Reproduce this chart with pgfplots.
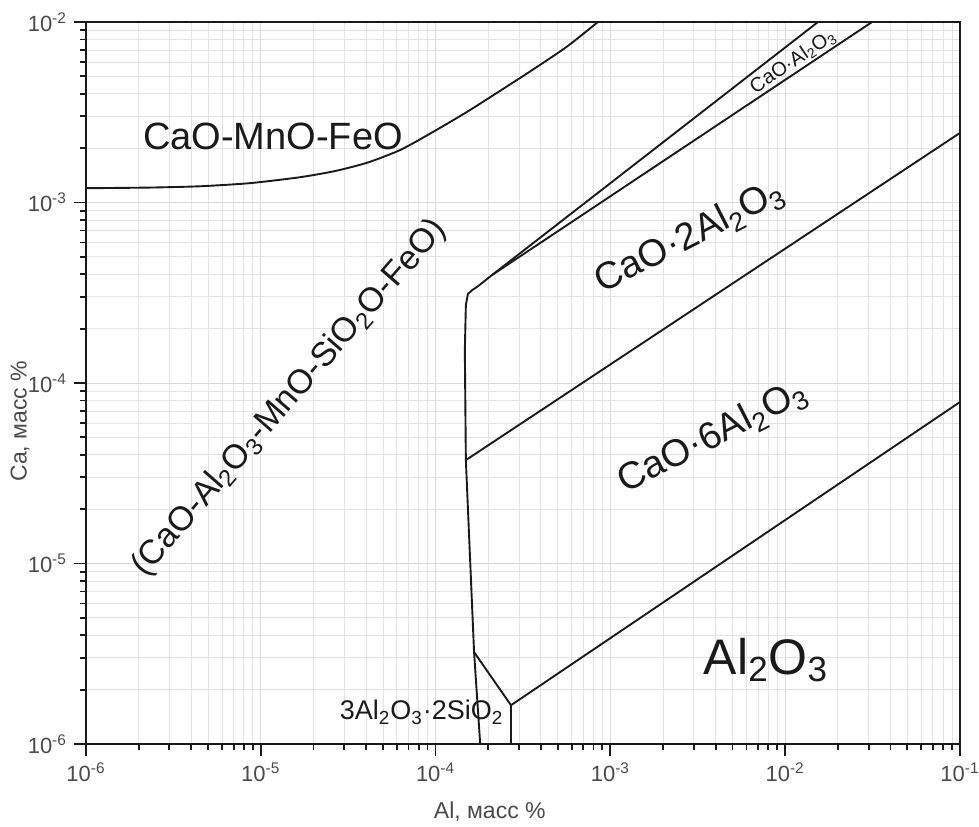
\documentclass[border=0pt]{standalone}
\usepackage{fontspec}
\setmainfont{Liberation Sans}
\usepackage{pgfplots}
\pgfplotsset{compat=1.18}
\definecolor{ink}{HTML}{1A1A1A}
\definecolor{ticktext}{HTML}{4A4A4A}
\pgfplotsset{bnd/.style={ink, solid, line width=0.95pt, mark=none}}
\begin{document}
\begin{tikzpicture}
\begin{axis}[
  xmode=log, ymode=log,
  scale only axis, width=437pt, height=361pt,
  xmin=1e-6, xmax=1e-1, ymin=1e-6, ymax=1e-2,
  xtick={1e-6,1e-5,1e-4,1e-3,1e-2,1e-1},
  xticklabels={10\textsuperscript{-6},10\textsuperscript{-5},10\textsuperscript{-4},10\textsuperscript{-3},10\textsuperscript{-2},10\textsuperscript{-1}},
  ytick={1e-6,1e-5,1e-4,1e-3,1e-2},
  yticklabels={10\textsuperscript{-6},10\textsuperscript{-5},10\textsuperscript{-4},10\textsuperscript{-3},10\textsuperscript{-2}},
  tick align=outside, xtick pos=bottom, ytick pos=left,
  major tick length=6pt, minor tick length=3pt,
  every tick/.style={ink, line width=0.9pt},
  grid=both,
  major grid style={gray!28, line width=0.45pt},
  minor grid style={gray!22, line width=0.45pt},
  axis line style={ink, line width=1.3pt},
  tick label style={font=\fontsize{11}{12}\selectfont, text=ticktext},
  xlabel={Al, масс \%}, ylabel={Ca, масс \%},
  label style={font=\fontsize{11.5}{13}\selectfont, text=ticktext},
  x label style={at={([yshift=-34pt]axis description cs:0.462,0)}, anchor=center},
  y label style={at={([xshift=-33pt]axis description cs:0,0.447)}, anchor=center},
  clip=true,
]
% CaO-MnO-FeO boundary
\addplot[bnd, smooth, tension=0.4] coordinates {
  (1e-6,1.20e-3) (2.32e-6,1.21e-3) (4.49e-6,1.23e-3) (8.67e-6,1.28e-3)
  (1.67e-5,1.38e-3) (2.66e-5,1.494e-3) (4.05e-5,1.66e-3) (6.25e-5,1.95e-3)
  (9.66e-5,2.459e-3) (1.51e-4,3.173e-3) (2.33e-4,4.146e-3) (3.61e-4,5.455e-3)
  (5.65e-4,7.314e-3) (8.49e-4,1e-2)
};
% liquid oxide boundary
\addplot[bnd] coordinates {
  (1.80e-4,1e-6) (1.66e-4,3.23e-6) (1.49e-4,3.74e-5) (1.47e-4,1.52e-4)
  (1.49e-4,2.70e-4) (1.53e-4,3.11e-4) (1.62e-4,3.27e-4) (1.75e-4,3.44e-4)
  (2.10e-4,3.96e-4)
};
% CaO.Al2O3 band
\addplot[bnd] coordinates {(2.10e-4,3.96e-4) (1.54e-2,1e-2)};
\addplot[bnd] coordinates {(2.10e-4,3.96e-4) (3.14e-2,1e-2)};
% CaO.2Al2O3 / CaO.6Al2O3
\addplot[bnd] coordinates {(1.49e-4,3.74e-5) (1e-1,2.43e-3)};
% CaO.6Al2O3 / Al2O3 and mullite field
\addplot[bnd] coordinates {(1.66e-4,3.23e-6) (2.70e-4,1.64e-6) (1e-1,7.85e-5)};
\addplot[bnd] coordinates {(2.70e-4,1.64e-6) (2.70e-4,1e-6)};

\coordinate (bl) at (rel axis cs:0,0);
\coordinate (tr) at (rel axis cs:1,1);

\begin{scope}[every node/.style={text=ink, inner sep=0pt}]
\node[font=\fontsize{19}{22}\selectfont] at (rel axis cs:0.214,0.841) {CaO-MnO-FeO};
\node[font=\fontsize{17}{20}\selectfont, rotate=49] at (rel axis cs:0.233,0.479)
  {(CaO-Al\textsubscript{2}O\textsubscript{3}-MnO-SiO\textsubscript{2}O-FeO)};
\node[font=\fontsize{19}{22}\selectfont, rotate=27] at (rel axis cs:0.691,0.702)
  {CaO·2Al\textsubscript{2}O\textsubscript{3}};
\node[font=\fontsize{19}{22}\selectfont, rotate=27] at (rel axis cs:0.717,0.425)
  {CaO·6Al\textsubscript{2}O\textsubscript{3}};
\node[font=\fontsize{10}{12}\selectfont, rotate=34] at (rel axis cs:0.809,0.945)
  {CaO·Al\textsubscript{2}O\textsubscript{3}};
\node[font=\fontsize{25}{28}\selectfont] at (rel axis cs:0.778,0.116)
  {Al\textsubscript{2}O\textsubscript{3}};
\node[font=\fontsize{13.5}{16}\selectfont] at (rel axis cs:0.384,0.044)
  {3Al\textsubscript{2}O\textsubscript{3}·2SiO\textsubscript{2}};
\end{scope}
\end{axis}
\pgfresetboundingbox
\path ([shift={(-43pt,-41.5pt)}]bl) rectangle ([shift={(9.5pt,11pt)}]tr);
\end{tikzpicture}
\end{document}
